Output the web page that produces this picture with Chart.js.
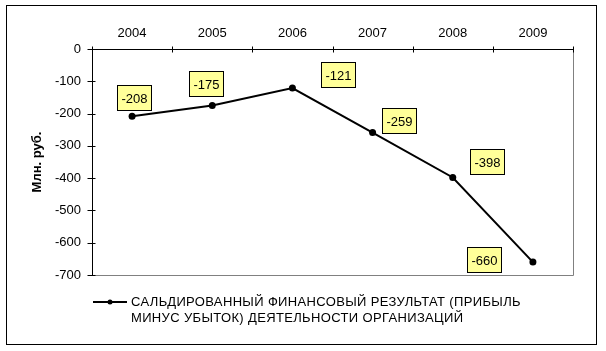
<!DOCTYPE html>
<html lang="ru">
<head>
  <meta charset="UTF-8">
  <title>Сальдированный финансовый результат</title>
  <script src="https://cdn.jsdelivr.net/npm/chart.js"></script>
  <style>
    body {
      margin: 0;
      background: #fff;
    }
    canvas {
      display: block;
    }
  </style>
</head>
<body>

  <canvas id="resultChart" width="606" height="351"></canvas>

  <script>
    // data
    const years = ['2004', '2005', '2006', '2007', '2008', '2009'];
    const result = [-208, -175, -121, -259, -398, -660];
    const yTicks = [0, -100, -200, -300, -400, -500, -600, -700];
    const seriesName = ['САЛЬДИРОВАННЫЙ ФИНАНСОВЫЙ РЕЗУЛЬТАТ (ПРИБЫЛЬ',
                        'МИНУС УБЫТОК) ДЕЯТЕЛЬНОСТИ ОРГАНИЗАЦИЙ'];
    const axisTitle = 'Млн. руб.';

    const FONT = "Arial, 'Liberation Sans', sans-serif";

    // where each data label box sits relative to its point (px)
    const labelShift = [[2, -19], [-6, -22], [46, -14], [26, -12], [34, -16], [-49, -3]];

    const framePlugin = {
      id: 'frame',
      beforeDraw(chart) {
        const ctx = chart.ctx;
        ctx.save();
        ctx.fillStyle = '#fff';
        ctx.fillRect(0, 0, chart.width, chart.height);
        ctx.strokeStyle = '#000';
        ctx.lineWidth = 1;
        ctx.strokeRect(6.5, 5.5, 590, 339);
        ctx.restore();
      },
      beforeDatasetsDraw(chart) {
        const ctx = chart.ctx;
        const a = chart.chartArea;
        const x = chart.scales.x;
        const y = chart.scales.y;
        ctx.save();
        // plot area right / bottom edge
        ctx.strokeStyle = '#808080';
        ctx.lineWidth = 1;
        ctx.beginPath();
        ctx.moveTo(Math.round(a.right) + 0.5, Math.round(a.top));
        ctx.lineTo(Math.round(a.right) + 0.5, Math.round(a.bottom) + 0.5);
        ctx.lineTo(Math.round(a.left), Math.round(a.bottom) + 0.5);
        ctx.stroke();
        // cross tick marks
        ctx.strokeStyle = '#000';
        ctx.beginPath();
        const ax = Math.round(a.left) + 0.5;
        yTicks.forEach(v => {
          const py = Math.round(y.getPixelForValue(v)) + 0.5;
          ctx.moveTo(ax - 5, py);
          ctx.lineTo(ax + 3, py);
        });
        const ay = Math.round(a.top) + 0.5;
        for (let i = 0; i <= years.length; i++) {
          const px = Math.round(x.getPixelForValue(i - 0.5)) + 0.5;
          ctx.moveTo(px, ay - 3);
          ctx.lineTo(px, ay + 3);
        }
        ctx.stroke();
        ctx.restore();
      },
      afterDatasetsDraw(chart) {
        const ctx = chart.ctx;
        const meta = chart.getDatasetMeta(0);
        ctx.save();
        ctx.font = '13px ' + FONT;
        ctx.textAlign = 'center';
        ctx.textBaseline = 'middle';
        meta.data.forEach((pt, i) => {
          const txt = String(result[i]);
          const w = Math.round(ctx.measureText(txt).width) + 8;
          const h = 25;
          const cx = pt.x + labelShift[i][0];
          const cy = pt.y + labelShift[i][1];
          const bx = Math.round(cx - w / 2) + 0.5;
          const by = Math.round(cy - h / 2) + 0.5;
          ctx.fillStyle = '#ffff99';
          ctx.fillRect(bx, by, w, h);
          ctx.strokeStyle = '#000';
          ctx.lineWidth = 1;
          ctx.strokeRect(bx, by, w, h);
          ctx.fillStyle = '#000';
          ctx.fillText(txt, bx + w / 2, by + h / 2 + 1);
        });
        ctx.restore();
      },
      afterDraw(chart) {
        // legend below the plot
        const ctx = chart.ctx;
        ctx.save();
        ctx.strokeStyle = '#000';
        ctx.lineWidth = 2;
        ctx.beginPath();
        ctx.moveTo(93, 302);
        ctx.lineTo(127, 302);
        ctx.stroke();
        ctx.fillStyle = '#000';
        ctx.beginPath();
        ctx.arc(110, 302, 2.5, 0, Math.PI * 2);
        ctx.fill();
        ctx.font = '13px ' + FONT;
        ctx.letterSpacing = '0.35px';
        ctx.textAlign = 'left';
        ctx.textBaseline = 'middle';
        seriesName.forEach((line, i) => ctx.fillText(line, 131, 302 + i * 16));
        ctx.restore();
      }
    };

    const ctx = document.getElementById('resultChart').getContext('2d');

    new Chart(ctx, {
      type: 'line',
      data: {
        labels: years,
        datasets: [{
          label: seriesName.join(' '),
          data: result,
          borderColor: '#000',
          backgroundColor: '#000',
          borderWidth: 2,
          pointRadius: 3.5,
          pointBackgroundColor: '#000',
          pointBorderWidth: 0,
          tension: 0
        }]
      },
      options: {
        responsive: false,
        animation: false,
        layout: {
          padding: { left: 6, top: 5, right: 33, bottom: 76 }
        },
        plugins: {
          legend: { display: false },
          tooltip: { enabled: false }
        },
        scales: {
          x: {
            position: 'top',
            offset: true,
            grid: { display: false, drawTicks: false },
            border: { color: '#000', width: 1 },
            ticks: {
              color: '#000',
              padding: 8,
              font: { family: FONT, size: 13 }
            },
            afterFit(scale) { scale.height = 44; }
          },
          y: {
            min: -700,
            max: 0,
            grid: { display: false, drawTicks: false },
            border: { color: '#000', width: 1 },
            ticks: {
              stepSize: 100,
              color: '#000',
              padding: 11,
              font: { family: FONT, size: 13 }
            },
            title: {
              display: true,
              text: axisTitle,
              color: '#000',
              padding: { top: 24, bottom: 0 },
              font: { family: FONT, size: 13, weight: 'bold' }
            },
            afterFit(scale) { scale.width = 86; }
          }
        }
      },
      plugins: [framePlugin]
    });
  </script>

</body>
</html>
